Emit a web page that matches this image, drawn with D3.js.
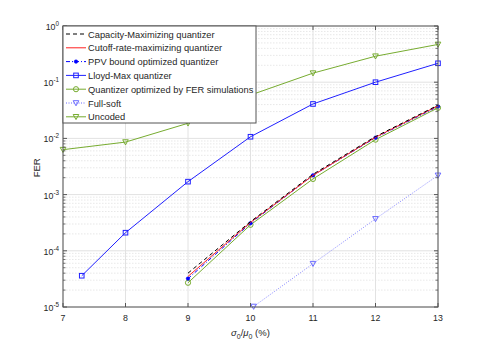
<!DOCTYPE html>
<html>
<head>
<meta charset="utf-8">
<script src="https://cdn.jsdelivr.net/npm/d3@7"></script>
<style>
  body { margin: 0; background: #fff; }
  text { font-family: "Liberation Sans", Arial, sans-serif; fill: #262626; }
</style>
</head>
<body>
<div id="chart"></div>
<script>
// data
const xCluster = [9, 10, 11, 12, 13];
const capacityFer = [4.0e-5, 3.3e-4, 2.3e-3, 0.0108, 0.039];
const cutoffFer = [3.5e-5, 3.2e-4, 2.2e-3, 0.0105, 0.038];
const ppvFer = [3.2e-5, 3.1e-4, 2.2e-3, 0.0103, 0.037];
const ferSimFer = [2.7e-5, 2.9e-4, 1.9e-3, 0.0095, 0.035];

const xLloyd = [7.3, 8, 9, 10, 11, 12, 13];
const lloydFer = [3.6e-5, 2.1e-4, 1.7e-3, 0.0107, 0.041, 0.10, 0.217];

const xSoft = [10.05, 11, 12, 13];
const softFer = [1.02e-5, 5.9e-5, 3.7e-4, 2.2e-3];

const xUncoded = [7, 8, 9, 10, 11, 12, 13];
const uncodedFer = [6.3e-3, 8.6e-3, 0.0186, 0.059, 0.145, 0.29, 0.47];

const xTicks = [7, 8, 9, 10, 11, 12, 13];
const yExps = [0, -1, -2, -3, -4, -5];

const series = [
  {name: "Capacity-Maximizing quantizer", x: xCluster, y: capacityFer, color: "#000000", dash: "4,3", marker: null},
  {name: "Cutoff-rate-maximizing quantizer", x: xCluster, y: cutoffFer, color: "#ff2020", dash: null, marker: null},
  {name: "PPV bound optimized quantizer", x: xCluster, y: ppvFer, color: "#0000ff", dash: "4,2,1,2", marker: "dot"},
  {name: "Lloyd-Max quantizer", x: xLloyd, y: lloydFer, color: "#2020ff", dash: null, marker: "square"},
  {name: "Quantizer optimized by FER simulations", x: xCluster, y: ferSimFer, color: "#77ac30", dash: null, marker: "circle"},
  {name: "Full-soft", x: xSoft, y: softFer, color: "#6a6aff", dash: "1,1.5", marker: "tri"},
  {name: "Uncoded", x: xUncoded, y: uncodedFer, color: "#77ac30", dash: null, marker: "tri"}
];

// setup
const width = 485, height = 346;
const margin = {top: 26, right: 47, bottom: 39, left: 63};
const plotWidth = width - margin.left - margin.right;
const plotHeight = height - margin.top - margin.bottom;

const svg = d3.select("#chart").append("svg")
    .attr("width", width)
    .attr("height", height);

const x = d3.scaleLinear().domain([7, 13]).range([margin.left, margin.left + plotWidth]);
const y = d3.scaleLog().domain([1e-5, 1]).range([margin.top + plotHeight, margin.top]);

// grid
const grid = svg.append("g").attr("class", "grid");
const minorVals = [];
for (let e = -5; e < 0; e++) {
  for (let k = 2; k <= 9; k++) minorVals.push(k * Math.pow(10, e));
}
grid.selectAll("line.minor")
  .data(minorVals)
    .enter()
  .append("line")
    .attr("x1", x.range()[0]).attr("x2", x.range()[1])
    .attr("y1", d => y(d)).attr("y2", d => y(d))
    .attr("stroke", "#d8d8d8")
    .attr("stroke-width", 0.6)
    .attr("stroke-dasharray", "1.5,1.5");
grid.selectAll("line.majorY")
  .data(yExps.map(e => Math.pow(10, e)))
    .enter()
  .append("line")
    .attr("x1", x.range()[0]).attr("x2", x.range()[1])
    .attr("y1", d => y(d)).attr("y2", d => y(d))
    .attr("stroke", "#e2e2e2")
    .attr("stroke-width", 1);
grid.selectAll("line.majorX")
  .data(xTicks)
    .enter()
  .append("line")
    .attr("x1", d => x(d)).attr("x2", d => x(d))
    .attr("y1", y.range()[0]).attr("y2", y.range()[1])
    .attr("stroke", "#e2e2e2")
    .attr("stroke-width", 1);

// series
const line = d3.line().x(d => x(d[0])).y(d => y(d[1]));
const plot = svg.append("g").attr("class", "series");

function drawMarker(g, type, color, cx, cy) {
  if (type === "square") {
    g.append("rect").attr("x", cx - 2.3).attr("y", cy - 2.3).attr("width", 4.6).attr("height", 4.6)
      .attr("fill", "none").attr("stroke", color).attr("stroke-width", 1);
  } else if (type === "circle") {
    g.append("circle").attr("cx", cx).attr("cy", cy).attr("r", 2.6)
      .attr("fill", "none").attr("stroke", color).attr("stroke-width", 1);
  } else if (type === "tri") {
    g.append("path").attr("d", `M${cx - 2.8},${cy - 2.3}L${cx + 2.8},${cy - 2.3}L${cx},${cy + 2.8}Z`)
      .attr("fill", "none").attr("stroke", color).attr("stroke-width", 1);
  } else if (type === "dot") {
    g.append("circle").attr("cx", cx).attr("cy", cy).attr("r", 1.8)
      .attr("fill", color).attr("stroke", color).attr("stroke-width", 0.5);
  }
}

// draw in an order that keeps the cluster looking like the figure
const drawOrder = [6, 3, 5, 4, 2, 1, 0];
drawOrder.forEach(i => {
  const s = series[i];
  const pts = s.x.map((v, j) => [v, s.y[j]]);
  const g = plot.append("g");
  g.append("path")
    .datum(pts)
    .attr("d", line)
    .attr("fill", "none")
    .attr("stroke", s.color)
    .attr("stroke-width", i === 5 ? 0.8 : 1)
    .attr("stroke-dasharray", s.dash);
  if (s.marker) pts.forEach(p => drawMarker(g, s.marker, s.color, x(p[0]), y(p[1])));
});

// axes box and ticks
const axisColor = "#555";
const frame = svg.append("g").attr("class", "frame");
frame.append("rect")
  .attr("x", margin.left).attr("y", margin.top)
  .attr("width", plotWidth).attr("height", plotHeight)
  .attr("fill", "none").attr("stroke", axisColor).attr("stroke-width", 1);

xTicks.forEach(t => {
  frame.append("line").attr("x1", x(t)).attr("x2", x(t))
    .attr("y1", y.range()[0]).attr("y2", y.range()[0] - 4).attr("stroke", axisColor);
  frame.append("line").attr("x1", x(t)).attr("x2", x(t))
    .attr("y1", y.range()[1]).attr("y2", y.range()[1] + 4).attr("stroke", axisColor);
  frame.append("text")
    .attr("x", x(t)).attr("y", y.range()[0] + 14)
    .attr("text-anchor", "middle")
    .attr("font-size", 8.8)
    .text(t);
});

yExps.forEach(e => {
  const v = Math.pow(10, e);
  frame.append("line").attr("x1", x.range()[0]).attr("x2", x.range()[0] + 4)
    .attr("y1", y(v)).attr("y2", y(v)).attr("stroke", axisColor);
  frame.append("line").attr("x1", x.range()[1]).attr("x2", x.range()[1] - 4)
    .attr("y1", y(v)).attr("y2", y(v)).attr("stroke", axisColor);
  const lbl = frame.append("text")
    .attr("x", x.range()[0] - 4).attr("y", y(v) + 4)
    .attr("text-anchor", "end")
    .attr("font-size", 8.8);
  lbl.append("tspan").text("10");
  lbl.append("tspan").attr("dy", -4).attr("font-size", 6.3).text(e);
});
minorVals.forEach(v => {
  frame.append("line").attr("x1", x.range()[0]).attr("x2", x.range()[0] + 2.5)
    .attr("y1", y(v)).attr("y2", y(v)).attr("stroke", axisColor).attr("stroke-width", 0.8);
  frame.append("line").attr("x1", x.range()[1]).attr("x2", x.range()[1] - 2.5)
    .attr("y1", y(v)).attr("y2", y(v)).attr("stroke", axisColor).attr("stroke-width", 0.8);
});

// axis titles
const xTitle = svg.append("text")
  .attr("x", x(10)).attr("y", height - 10)
  .attr("text-anchor", "middle")
  .attr("font-size", 9.5);
xTitle.append("tspan").attr("font-style", "italic").text("σ");
xTitle.append("tspan").attr("dy", 3).attr("font-size", 7).text("0");
xTitle.append("tspan").attr("dy", -3).text("/");
xTitle.append("tspan").attr("font-style", "italic").text("μ");
xTitle.append("tspan").attr("dy", 3).attr("font-size", 7).text("0");
xTitle.append("tspan").attr("dy", -3).text(" (%)");

svg.append("text")
  .attr("transform", `translate(40, ${y(3e-3)}) rotate(-90)`)
  .attr("text-anchor", "middle")
  .attr("font-size", 9.5)
  .text("FER");

// legend
const legend = svg.append("g").attr("class", "legend");
const legW = 193, legH = 97;
legend.append("rect")
  .attr("x", margin.left).attr("y", margin.top)
  .attr("width", legW).attr("height", legH)
  .attr("fill", "#fff").attr("stroke", axisColor).attr("stroke-width", 1);

series.forEach((s, i) => {
  const ly = margin.top + 8 + i * 13.8;
  const g = legend.append("g");
  g.append("line")
    .attr("x1", margin.left + 3).attr("x2", margin.left + 23)
    .attr("y1", ly).attr("y2", ly)
    .attr("stroke", s.color).attr("stroke-width", 1)
    .attr("stroke-dasharray", s.dash);
  if (s.marker) drawMarker(g, s.marker, s.color, margin.left + 13, ly);
  g.append("text")
    .attr("x", margin.left + 25).attr("y", ly + 3.5)
    .attr("font-size", 9.3)
    .attr("textLength", null)
    .text(s.name);
});
</script>
</body>
</html>
